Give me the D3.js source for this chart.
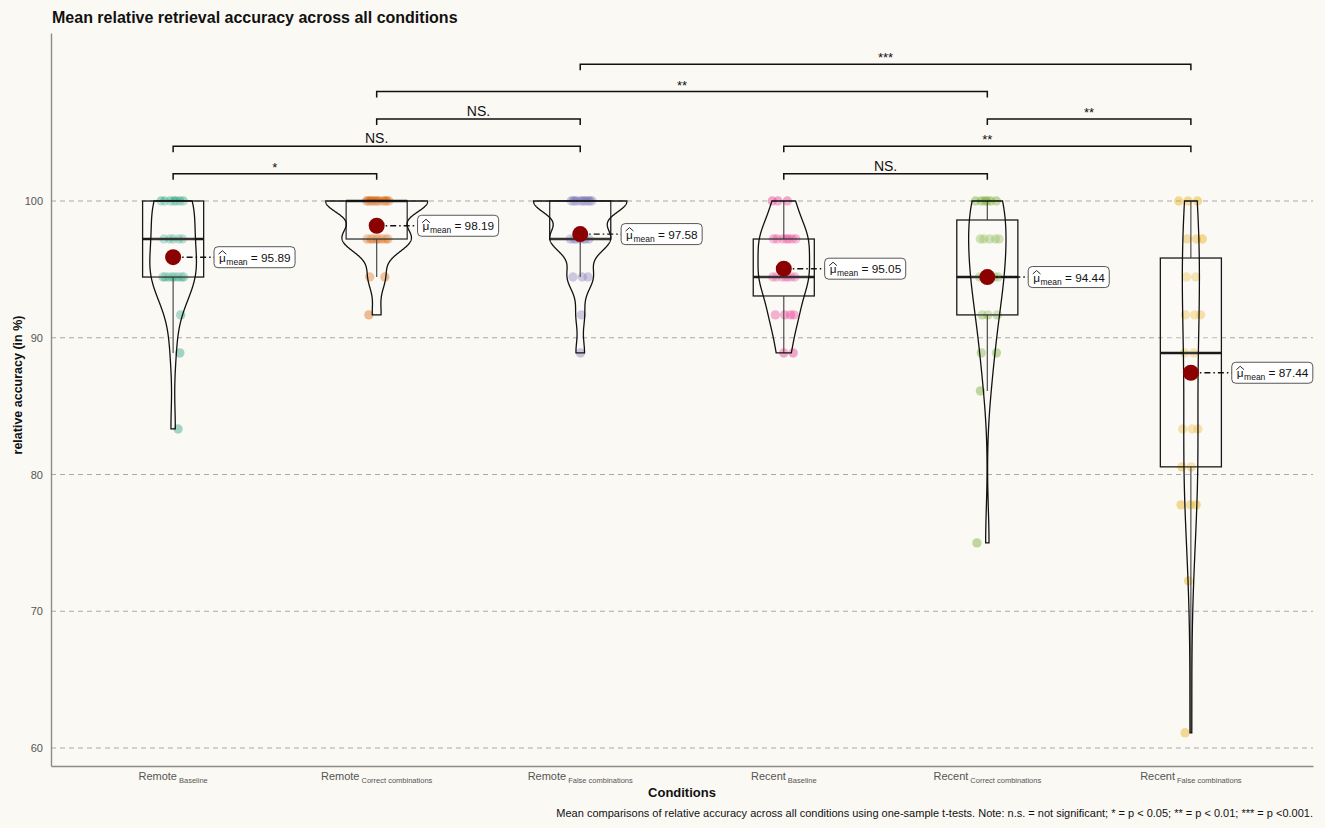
<!DOCTYPE html>
<html>
<head>
<meta charset="utf-8">
<script src="https://cdn.jsdelivr.net/npm/d3@7"></script>
<style>
  html, body { margin: 0; padding: 0; background: #fbf9f4; }
  svg { display: block; font-family: "Liberation Sans", Arial, Helvetica, sans-serif; }
</style>
</head>
<body>
<svg id="chart" width="1325" height="828"></svg>
<script>
// ---------------- data ----------------
const groups = ["Remote", "Remote", "Remote", "Recent", "Recent", "Recent"];
const subLabels = ["Baseline", "Correct combinations", "False combinations",
                   "Baseline", "Correct combinations", "False combinations"];
const colors = ["#1B9E77", "#D95F02", "#7570B3", "#E7298A", "#66A61E", "#E6AB02"];

const remoteBaseline = [100,100,100,100,100,100,100, 97.22,97.22,97.22,97.22,97.22,
  94.44,94.44,94.44,94.44,94.44,94.44,94.44,94.44, 91.67, 88.89, 83.33];
const remoteCorrect = [100,100,100,100,100,100,100,100,100,100,100,100,
  97.22,97.22,97.22,97.22,97.22,97.22,97.22,97.22, 94.44,94.44, 91.67];
const remoteFalse = [100,100,100,100,100,100,100,100,100,100,100,
  97.22,97.22,97.22,97.22,97.22,97.22,97.22, 94.44,94.44,94.44, 91.67, 88.89];
const recentBaseline = [100,100,100, 97.22,97.22,97.22,97.22,97.22,97.22,97.22,
  94.44,94.44,94.44,94.44,94.44,94.44,94.44, 91.67,91.67,91.67,91.67, 88.89,88.89];
const recentCorrect = [100,100,100,100,100,100, 97.22,97.22,97.22,97.22,97.22,
  94.44,94.44,94.44,94.44,94.44, 91.67,91.67,91.67, 88.89,88.89, 86.11, 75.00];
const recentFalse = [100,100,100, 97.22,97.22,97.22, 94.44,94.44, 91.67,91.67,91.67,
  88.89,88.89, 83.33,83.33,83.33, 80.56,80.56, 77.78,77.78,77.78, 72.22, 61.11];

const seriesValues = [remoteBaseline, remoteCorrect, remoteFalse,
                      recentBaseline, recentCorrect, recentFalse];
const meanValues = [95.89, 98.19, 97.58, 95.05, 94.44, 87.44];

const yTicks = [60, 70, 80, 90, 100];

const compFrom  = [0, 0, 1, 1, 2, 3, 3, 4];
const compTo    = [1, 2, 2, 4, 5, 4, 5, 5];
const compLevel = [102, 104, 106, 108, 110, 102, 104, 106];
const compLabel = ["*", "NS.", "NS.", "**", "***", "NS.", "**", "**"];

const titleText = "Mean relative retrieval accuracy across all conditions";
const yTitle = "relative accuracy (in %)";
const xTitle = "Conditions";
const captionText = "Mean comparisons of relative accuracy across all conditions using one-sample t-tests. Note: n.s. = not significant; * = p < 0.05; ** = p < 0.01; *** = p <0.001.";

// ---------------- layout ----------------
const svg = d3.select("#chart");
const W = 1325, H = 828;
const pLeft = 51, pRight = 1313, pTop = 33, pBottom = 766;

svg.append("rect").attr("width", W).attr("height", H).attr("fill", "#fbf9f4");

const x = d3.scalePoint().domain(d3.range(6)).range([pLeft, pRight]).padding(0.6);
const unit = x.step();
const y = d3.scaleLinear().domain([58.684, 112.285]).range([pBottom, pTop]);

// gridlines
svg.append("g").selectAll("line").data(yTicks).join("line")
  .attr("x1", pLeft).attr("x2", pRight)
  .attr("y1", d => y(d)).attr("y2", d => y(d))
  .attr("stroke", "#a9a9a9").attr("stroke-width", 1)
  .attr("stroke-dasharray", "5,4");

// axes
const yAxis = svg.append("g").attr("transform", `translate(${pLeft},0)`)
  .call(d3.axisLeft(y).tickValues(yTicks).tickSize(0).tickSizeOuter(0).tickPadding(8));
yAxis.select(".domain").attr("stroke", "#8c8c8c").attr("stroke-width", 1.4);
yAxis.selectAll("text").attr("font-size", 11).style("fill", "#555555")
  .attr("font-family", "Liberation Sans, Arial, sans-serif");

const xAxis = svg.append("g").attr("transform", `translate(0,${pBottom})`)
  .call(d3.axisBottom(x).tickSize(0).tickSizeOuter(0).tickPadding(0).tickFormat(""));
xAxis.select(".domain").attr("stroke", "#8c8c8c").attr("stroke-width", 1.4);

// x tick labels with subscripts
const xl = svg.append("g").selectAll("text").data(d3.range(6)).join("text")
  .attr("x", i => x(i)).attr("y", 780)
  .attr("text-anchor", "middle").style("fill", "#555555").attr("font-size", 11);
xl.append("tspan").text(i => groups[i]);
xl.append("tspan").attr("dy", 2.5).attr("font-size", 7.5).attr("dx", 2).text(i => subLabels[i]);

// ---------------- stats helpers ----------------
function bwNrd0(v) {
  const n = v.length;
  const sd = d3.deviation(v);
  const s = v.slice().sort(d3.ascending);
  const iqr = d3.quantile(s, 0.75) - d3.quantile(s, 0.25);
  let lo = Math.min(sd, iqr / 1.34);
  if (!(lo > 0)) lo = sd || 1;
  return 0.9 * lo * Math.pow(n, -0.2);
}
function kde(v) {
  const bw = bwNrd0(v);
  const mn = d3.min(v), mx = d3.max(v);
  const n = v.length;
  const pts = [];
  for (let k = 0; k < 512; k++) {
    const t = mn + (mx - mn) * k / 511;
    let s = 0;
    for (const xi of v) { const u = (t - xi) / bw; s += Math.exp(-0.5 * u * u); }
    pts.push({ t, d: s / (n * bw * Math.sqrt(2 * Math.PI)) });
  }
  return pts;
}
const densities = seriesValues.map(kde);
const maxDens = d3.max(densities, ds => d3.max(ds, p => p.d));

// ---------------- jittered points ----------------
const pointData = [];
seriesValues.forEach((vals, g) => {
  const seen = {};
  vals.forEach(v => {
    const k = seen[v] = (seen[v] || 0) + 1;
    const frac = ((k * 0.6180339887 + g * 0.37 + v * 0.013) % 1) - 0.5;
    pointData.push({ g, v, dx: frac * 0.12 * unit });
  });
});
svg.append("g").selectAll("circle").data(pointData).join("circle")
  .attr("cx", d => x(d.g) + d.dx).attr("cy", d => y(d.v)).attr("r", 4.7)
  .attr("fill", d => colors[d.g]).attr("fill-opacity", 0.4);

// ---------------- boxplots ----------------
const boxW = 0.3 * unit;
const boxG = svg.append("g");
seriesValues.forEach((vals, g) => {
  const s = vals.slice().sort(d3.ascending);
  const q1 = d3.quantile(s, 0.25), med = d3.quantile(s, 0.5), q3 = d3.quantile(s, 0.75);
  const iqr = q3 - q1;
  const lo = d3.min(s.filter(v => v >= q1 - 1.5 * iqr));
  const hi = d3.max(s.filter(v => v <= q3 + 1.5 * iqr));
  const cx = x(g);
  boxG.append("line").attr("x1", cx).attr("x2", cx).attr("y1", y(q3)).attr("y2", y(hi))
    .attr("stroke", "#333").attr("stroke-width", 1.2);
  boxG.append("line").attr("x1", cx).attr("x2", cx).attr("y1", y(q1)).attr("y2", y(lo))
    .attr("stroke", "#333").attr("stroke-width", 1.2);
  boxG.append("rect").attr("x", cx - boxW / 2).attr("width", boxW)
    .attr("y", y(q3)).attr("height", y(q1) - y(q3))
    .attr("fill", "#ffffff").attr("fill-opacity", 0.2)
    .attr("stroke", "#1a1a1a").attr("stroke-width", 1.3);
  boxG.append("line").attr("x1", cx - boxW / 2).attr("x2", cx + boxW / 2)
    .attr("y1", y(med)).attr("y2", y(med))
    .attr("stroke", "#1a1a1a").attr("stroke-width", 2.4);
});

// ---------------- violins ----------------
const violinHalf = 0.25 * unit;
const vG = svg.append("g");
densities.forEach((ds, g) => {
  const cx = x(g);
  const area = d3.area()
    .y(p => y(p.t))
    .x0(p => cx - violinHalf * p.d / maxDens)
    .x1(p => cx + violinHalf * p.d / maxDens);
  vG.append("path").attr("d", area(ds) + "Z")
    .attr("fill", "#ffffff").attr("fill-opacity", 0.12)
    .attr("stroke", "#111").attr("stroke-width", 1.3);
});

// ---------------- means + labels ----------------
const mG = svg.append("g");
meanValues.forEach((m, g) => {
  const cx = x(g), cy = y(m);
  const lx = cx + 0.4 * unit;
  const lab = mG.append("g").attr("class", "mlabel");
  const txt = lab.append("text").attr("x", 0).attr("y", 0).attr("font-size", 11.8)
    .attr("fill", "#111");
  txt.append("tspan").text("\u03BC");
  txt.append("tspan").attr("font-size", 8.5).attr("dy", 3).attr("dx", 0.5).text("mean");
  txt.append("tspan").attr("dy", -3).text(" = " + m.toFixed(2));
  const tw = txt.node().getComputedTextLength();
  const bw = tw + 10, bh = 21;
  const bx = lx - bw / 2;
  txt.attr("x", bx + 5).attr("y", cy + 4.5);
  // hat over mu
  const ext = txt.node().getExtentOfChar(0);
  const hx0 = ext.x - 0.5, hx1 = ext.x + ext.width + 0.5, hy = cy - 5.5;
  lab.append("path").attr("d", `M${hx0},${hy + 2.5}L${(hx0 + hx1) / 2},${hy - 1}L${hx1},${hy + 2.5}`)
    .attr("fill", "none").attr("stroke", "#111").attr("stroke-width", 0.9);
  lab.insert("rect", "text").attr("x", bx).attr("y", cy - bh / 2)
    .attr("width", bw).attr("height", bh).attr("rx", 4)
    .attr("fill", "#ffffff").attr("stroke", "#444").attr("stroke-width", 0.9);
  mG.insert("line", ":first-child").attr("x1", cx).attr("x2", bx).attr("y1", cy).attr("y2", cy)
    .attr("stroke", "#111").attr("stroke-width", 1.4).attr("stroke-dasharray", "6,3,1.5,3");
  mG.append("circle").attr("cx", cx).attr("cy", cy).attr("r", 8).attr("fill", "#8B0000");
});
mG.selectAll("g.mlabel").raise();

// ---------------- significance brackets ----------------
const tip = 6;
const bG = svg.append("g");
compFrom.forEach((f, i) => {
  const x1 = x(f), x2 = x(compTo[i]), yy = y(compLevel[i]);
  bG.append("path")
    .attr("d", `M${x1},${yy + tip}V${yy}H${x2}V${yy + tip}`)
    .attr("fill", "none").attr("stroke", "#111").attr("stroke-width", 1.5);
  const isStar = compLabel[i].startsWith("*");
  bG.append("text").attr("x", (x1 + x2) / 2).attr("y", isStar ? yy - 2 : yy - 3)
    .attr("text-anchor", "middle").attr("font-size", isStar ? 13 : 14)
    .attr("fill", "#111").text(compLabel[i]);
});

// ---------------- titles ----------------
svg.append("text").attr("x", 52).attr("y", 23).attr("font-size", 16)
  .attr("font-weight", "bold").attr("fill", "#111").text(titleText);
svg.append("text").attr("transform", `translate(22,385) rotate(-90)`)
  .attr("text-anchor", "middle").attr("font-size", 12.5).attr("font-weight", "bold")
  .attr("fill", "#111").text(yTitle);
svg.append("text").attr("x", (pLeft + pRight) / 2).attr("y", 797)
  .attr("text-anchor", "middle").attr("font-size", 13).attr("font-weight", "bold")
  .attr("fill", "#111").text(xTitle);
svg.append("text").attr("x", pRight).attr("y", 817)
  .attr("text-anchor", "end").attr("font-size", 11).attr("fill", "#111").text(captionText);
</script>
</body>
</html>
